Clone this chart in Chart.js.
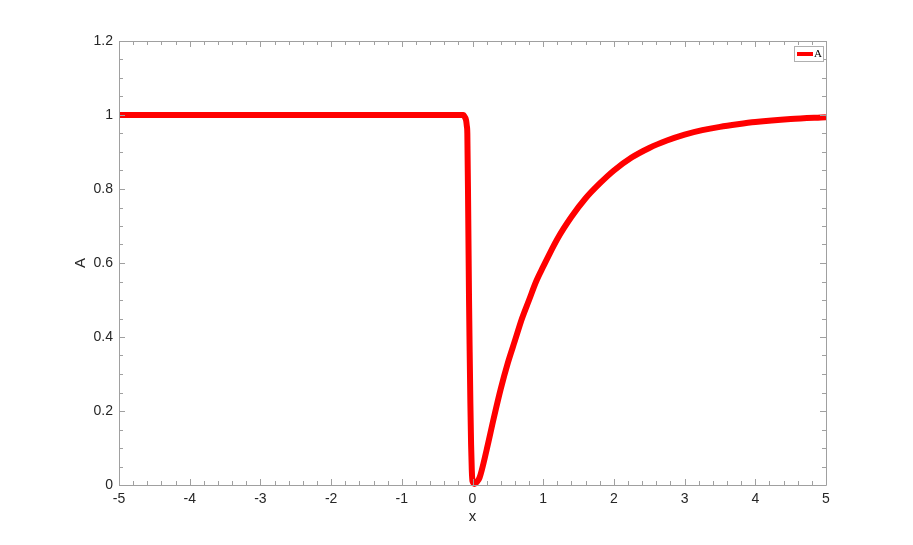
<!DOCTYPE html>
<html>
<head>
<meta charset="utf-8">
<script src="https://cdn.jsdelivr.net/npm/chart.js@4/dist/chart.umd.min.js"></script>
<style>
  html, body { margin: 0; padding: 0; background: #fff; }
  #wrap { width: 913px; height: 545px; }
</style>
</head>
<body>
<div id="wrap"><canvas id="chart"></canvas></div>
<script>
// values
const xValues = [-5, -4, -3, -2, -1, -0.5, -0.2, -0.13, -0.11, -0.09, -0.08, -0.073, -0.06, -0.049, -0.04, -0.03, -0.02, -0.01, 0,
  0.03, 0.06, 0.1, 0.2, 0.3, 0.4, 0.5, 0.6, 0.7, 0.8, 0.9, 1, 1.2, 1.4, 1.6, 1.8, 2, 2.25, 2.5, 2.75,
  3, 3.25, 3.5, 3.75, 4, 4.5, 5];
const aValues = [1, 1, 1, 1, 1, 1, 1, 1, 0.995, 0.985, 0.97, 0.95, 0.72, 0.5, 0.36, 0.22, 0.11, 0.04, 0.01,
  0.003, 0.008, 0.02, 0.095, 0.18, 0.26, 0.33, 0.39, 0.45, 0.5, 0.55, 0.59, 0.665, 0.725, 0.775, 0.815, 0.85, 0.885, 0.911, 0.931,
  0.947, 0.959, 0.968, 0.975, 0.981, 0.989, 0.994];
const seriesLabel = "A";
const xTitle = "x";
const yTitle = "A";
const xRange = [-5, 5];
const yRange = [0, 1.2];
const xMajorStep = 1, xMinorStep = 0.2;
const yMajorStep = 0.2, yMinorStep = 0.05;

const frameColor = "#a0a0a0";
const textColor = "#262626";

// frame, inward ticks on all four sides, axis titles and the legend box
const framePlugin = {
  id: "frame",
  afterDatasetsDraw(chart) {
    const { ctx, chartArea: a, scales } = chart;
    const xs = scales.x, ys = scales.y;
    ctx.save();
    ctx.strokeStyle = frameColor;
    ctx.lineWidth = 1;
    ctx.beginPath();
    ctx.rect(a.left + 0.5, a.top + 0.5, a.right - a.left, a.bottom - a.top);
    ctx.stroke();

    ctx.beginPath();
    const nx = Math.round((xRange[1] - xRange[0]) / xMinorStep);
    for (let i = 0; i <= nx; i++) {
      const v = xRange[0] + i * xMinorStep;
      const px = Math.round(xs.getPixelForValue(v)) + 0.5;
      const major = Math.abs(v / xMajorStep - Math.round(v / xMajorStep)) < 1e-6;
      const len = major ? 6 : 4;
      ctx.moveTo(px, a.bottom); ctx.lineTo(px, a.bottom - len);
      ctx.moveTo(px, a.top); ctx.lineTo(px, a.top + len);
    }
    const ny = Math.round((yRange[1] - yRange[0]) / yMinorStep);
    for (let i = 0; i <= ny; i++) {
      const v = yRange[0] + i * yMinorStep;
      const py = Math.round(ys.getPixelForValue(v)) + 0.5;
      const major = Math.abs(v / yMajorStep - Math.round(v / yMajorStep)) < 1e-6;
      const len = major ? 6 : 4;
      ctx.moveTo(a.left, py); ctx.lineTo(a.left + len, py);
      ctx.moveTo(a.right, py); ctx.lineTo(a.right - len, py);
    }
    ctx.stroke();

    // axis titles
    ctx.fillStyle = textColor;
    ctx.font = "15px 'Liberation Sans', Arial, sans-serif";
    ctx.textAlign = "center";
    ctx.textBaseline = "middle";
    ctx.fillText(xTitle, (a.left + a.right) / 2, a.bottom + 32);
    ctx.save();
    ctx.translate(a.left - 38, (a.top + a.bottom) / 2);
    ctx.rotate(-Math.PI / 2);
    ctx.fillText(yTitle, 0, 0);
    ctx.restore();

    // legend
    const ds = chart.data.datasets[0];
    const bx = a.right - 32, by = a.top + 5, bw = 29, bh = 15;
    ctx.fillStyle = "#fff";
    ctx.fillRect(bx, by, bw, bh);
    ctx.strokeStyle = "#b0b0b0";
    ctx.strokeRect(bx + 0.5, by + 0.5, bw, bh);
    ctx.fillStyle = ds.borderColor;
    ctx.fillRect(bx + 3, by + 6, 16, 4);
    ctx.fillStyle = "#000";
    ctx.font = "11px 'Liberation Serif', 'Times New Roman', serif";
    ctx.textAlign = "left";
    ctx.fillText(ds.label, bx + 20, by + 8);
    ctx.restore();
  },
};

const points = xValues.map((x, i) => ({ x: x, y: aValues[i] }));

new Chart(document.getElementById("chart"), {
  type: "line",
  data: {
    datasets: [
      {
        label: seriesLabel,
        data: points,
        borderColor: "#ff0000",
        borderWidth: 6,
        pointRadius: 0,
        cubicInterpolationMode: "monotone",
        clip: false,
        fill: false,
      },
    ],
  },
  options: {
    responsive: true,
    maintainAspectRatio: false,
    animation: false,
    layout: { padding: { left: 0, right: 87, top: 41, bottom: 0 } },
    plugins: { legend: { display: false }, tooltip: { enabled: false } },
    scales: {
      x: {
        type: "linear",
        min: xRange[0],
        max: xRange[1],
        grid: { display: false, drawTicks: false },
        border: { display: false },
        ticks: {
          stepSize: xMajorStep,
          padding: 6,
          color: textColor,
          font: { family: "'Liberation Sans', Arial, sans-serif", size: 14 },
        },
        afterFit(scale) { scale.height = 60; },
      },
      y: {
        min: yRange[0],
        max: yRange[1],
        grid: { display: false, drawTicks: false },
        border: { display: false },
        ticks: {
          stepSize: yMajorStep,
          padding: 6,
          color: textColor,
          font: { family: "'Liberation Sans', Arial, sans-serif", size: 14 },
          callback: (v) => String(Number(v.toFixed(1))),
        },
        afterFit(scale) { scale.width = 119; },
      },
    },
  },
  plugins: [framePlugin],
});
</script>
</body>
</html>
